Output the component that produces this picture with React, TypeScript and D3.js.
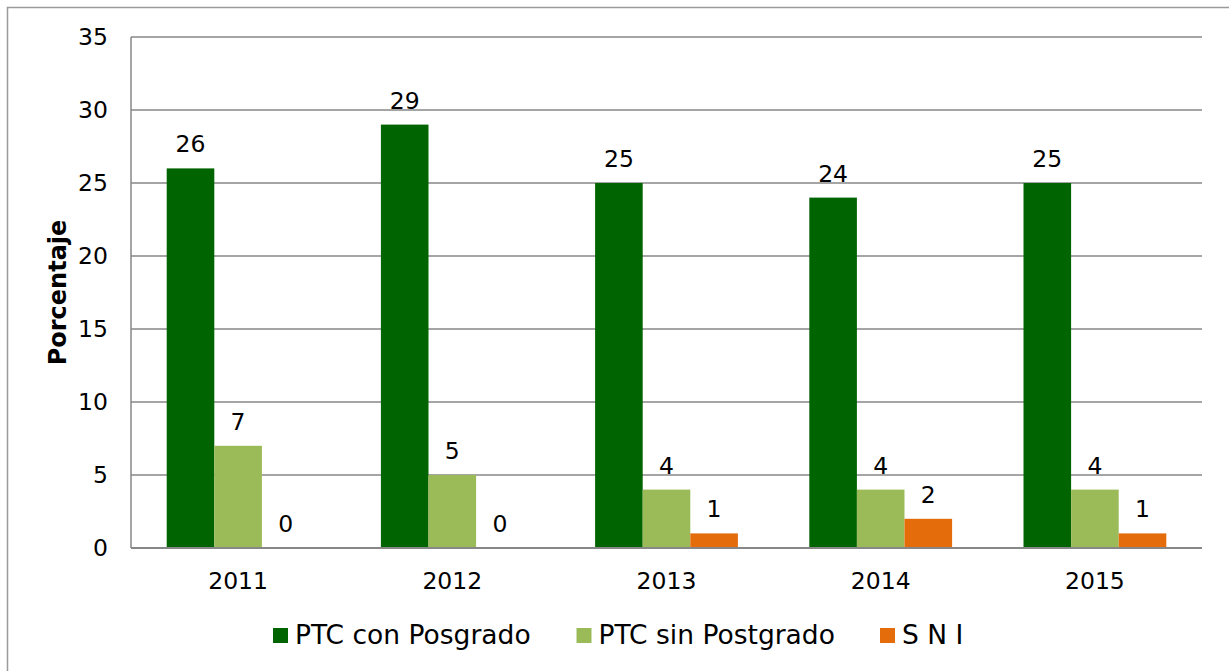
import React, { useRef, useEffect } from 'react';
import * as d3 from 'd3';

const years = ['2011', '2012', '2013', '2014', '2015'];
const conPosgrado = [26, 29, 25, 24, 25];
const sinPostgrado = [7, 5, 4, 4, 4];
const sni = [0, 0, 1, 2, 1];
const seriesNames = ['PTC con Posgrado', 'PTC sin Postgrado', 'S N I'];
const seriesColors = ['#006400', '#9BBB59', '#E46C0A'];
const yTicks = [0, 5, 10, 15, 20, 25, 30, 35];

const W = 1229;
const H = 671;
const FONT = '"DejaVu Sans", Verdana, sans-serif';

function App() {
    const svgRef = useRef<SVGSVGElement>(null);

    useEffect(() => {
        const svg = d3.select(svgRef.current);
        svg.selectAll('*').remove();

        const plot = { left: 131, right: 1202, top: 37, bottom: 548 };
        const allSeries = [conPosgrado, sinPostgrado, sni];

        const x = d3.scaleBand().domain(years).range([plot.left, plot.right]).paddingInner(0).paddingOuter(0);
        const inner = d3.scaleBand().domain(seriesNames)
            .range([0, x.bandwidth()])
            .paddingInner(0)
            .paddingOuter(0.75);
        const y = d3.scaleLinear().domain([0, 35]).range([plot.bottom, plot.top]);

        // outer frame
        svg.append('rect')
            .attr('x', 7.5).attr('y', 7.5)
            .attr('width', W + 20).attr('height', H + 20)
            .attr('fill', 'white')
            .attr('stroke', '#9a9a9a').attr('stroke-width', 1.5);

        // gridlines
        svg.append('g')
            .selectAll('line')
            .data(yTicks.filter(t => t > 0))
            .join('line')
            .attr('x1', plot.left).attr('x2', plot.right)
            .attr('y1', d => y(d)).attr('y2', d => y(d))
            .attr('stroke', '#878787').attr('stroke-width', 1.3);

        // y tick labels
        svg.append('g')
            .selectAll('text')
            .data(yTicks)
            .join('text')
            .attr('x', 108).attr('y', d => y(d) + 8)
            .attr('text-anchor', 'end')
            .style('font-family', FONT).style('font-size', '23.5px')
            .text(d => d);

        // bars
        const groups = svg.append('g')
            .selectAll('g')
            .data(allSeries)
            .join('g')
            .attr('fill', (_, i) => seriesColors[i]);

        groups.selectAll('rect')
            .data((vals, si) => vals.map((v, i) => ({ v, year: years[i], s: seriesNames[si] })))
            .join('rect')
            .attr('x', d => (x(d.year) as number) + (inner(d.s) as number))
            .attr('width', inner.bandwidth())
            .attr('y', d => y(d.v))
            .attr('height', d => y(0) - y(d.v));

        // data labels
        groups.selectAll('text')
            .data((vals, si) => vals.map((v, i) => ({ v, year: years[i], s: seriesNames[si] })))
            .join('text')
            .attr('x', d => (x(d.year) as number) + (inner(d.s) as number) + inner.bandwidth() / 2)
            .attr('y', d => y(d.v) - 16)
            .attr('text-anchor', 'middle')
            .attr('fill', 'black')
            .style('font-family', FONT).style('font-size', '23.5px')
            .text(d => d.v);

        // axes lines
        svg.append('line')
            .attr('x1', plot.left).attr('x2', plot.left)
            .attr('y1', plot.top).attr('y2', plot.bottom)
            .attr('stroke', '#878787').attr('stroke-width', 1.5);
        svg.append('line')
            .attr('x1', plot.left).attr('x2', plot.right)
            .attr('y1', plot.bottom).attr('y2', plot.bottom)
            .attr('stroke', '#878787').attr('stroke-width', 2);

        // x labels
        svg.append('g')
            .selectAll('text')
            .data(years)
            .join('text')
            .attr('x', d => (x(d) as number) + x.bandwidth() / 2)
            .attr('y', 589)
            .attr('text-anchor', 'middle')
            .style('font-family', FONT).style('font-size', '23.5px')
            .text(d => d);

        // y axis title
        svg.append('text')
            .attr('transform', `translate(66, ${(plot.top + plot.bottom) / 2}) rotate(-90)`)
            .attr('text-anchor', 'middle')
            .style('font-family', FONT).style('font-size', '24px').style('font-weight', 'bold')
            .text('Porcentaje');

        // legend
        const lx = d3.scalePoint().domain(seriesNames).range([273, 880]);
        const legend = svg.append('g')
            .selectAll('g')
            .data(seriesNames)
            .join('g')
            .attr('transform', d => `translate(${lx(d)}, 628)`);
        legend.append('rect')
            .attr('width', 15).attr('height', 15)
            .attr('fill', (_, i) => seriesColors[i]);
        legend.append('text')
            .attr('x', 22).attr('y', 15.5)
            .style('font-family', FONT).style('font-size', '26.5px')
            .text(d => d);
    }, []);

    return (
        <svg ref={svgRef} width={W} height={H}
            style={{ position: 'absolute', left: 0, top: 0, background: 'white' }} />
    );
}

export default App;
